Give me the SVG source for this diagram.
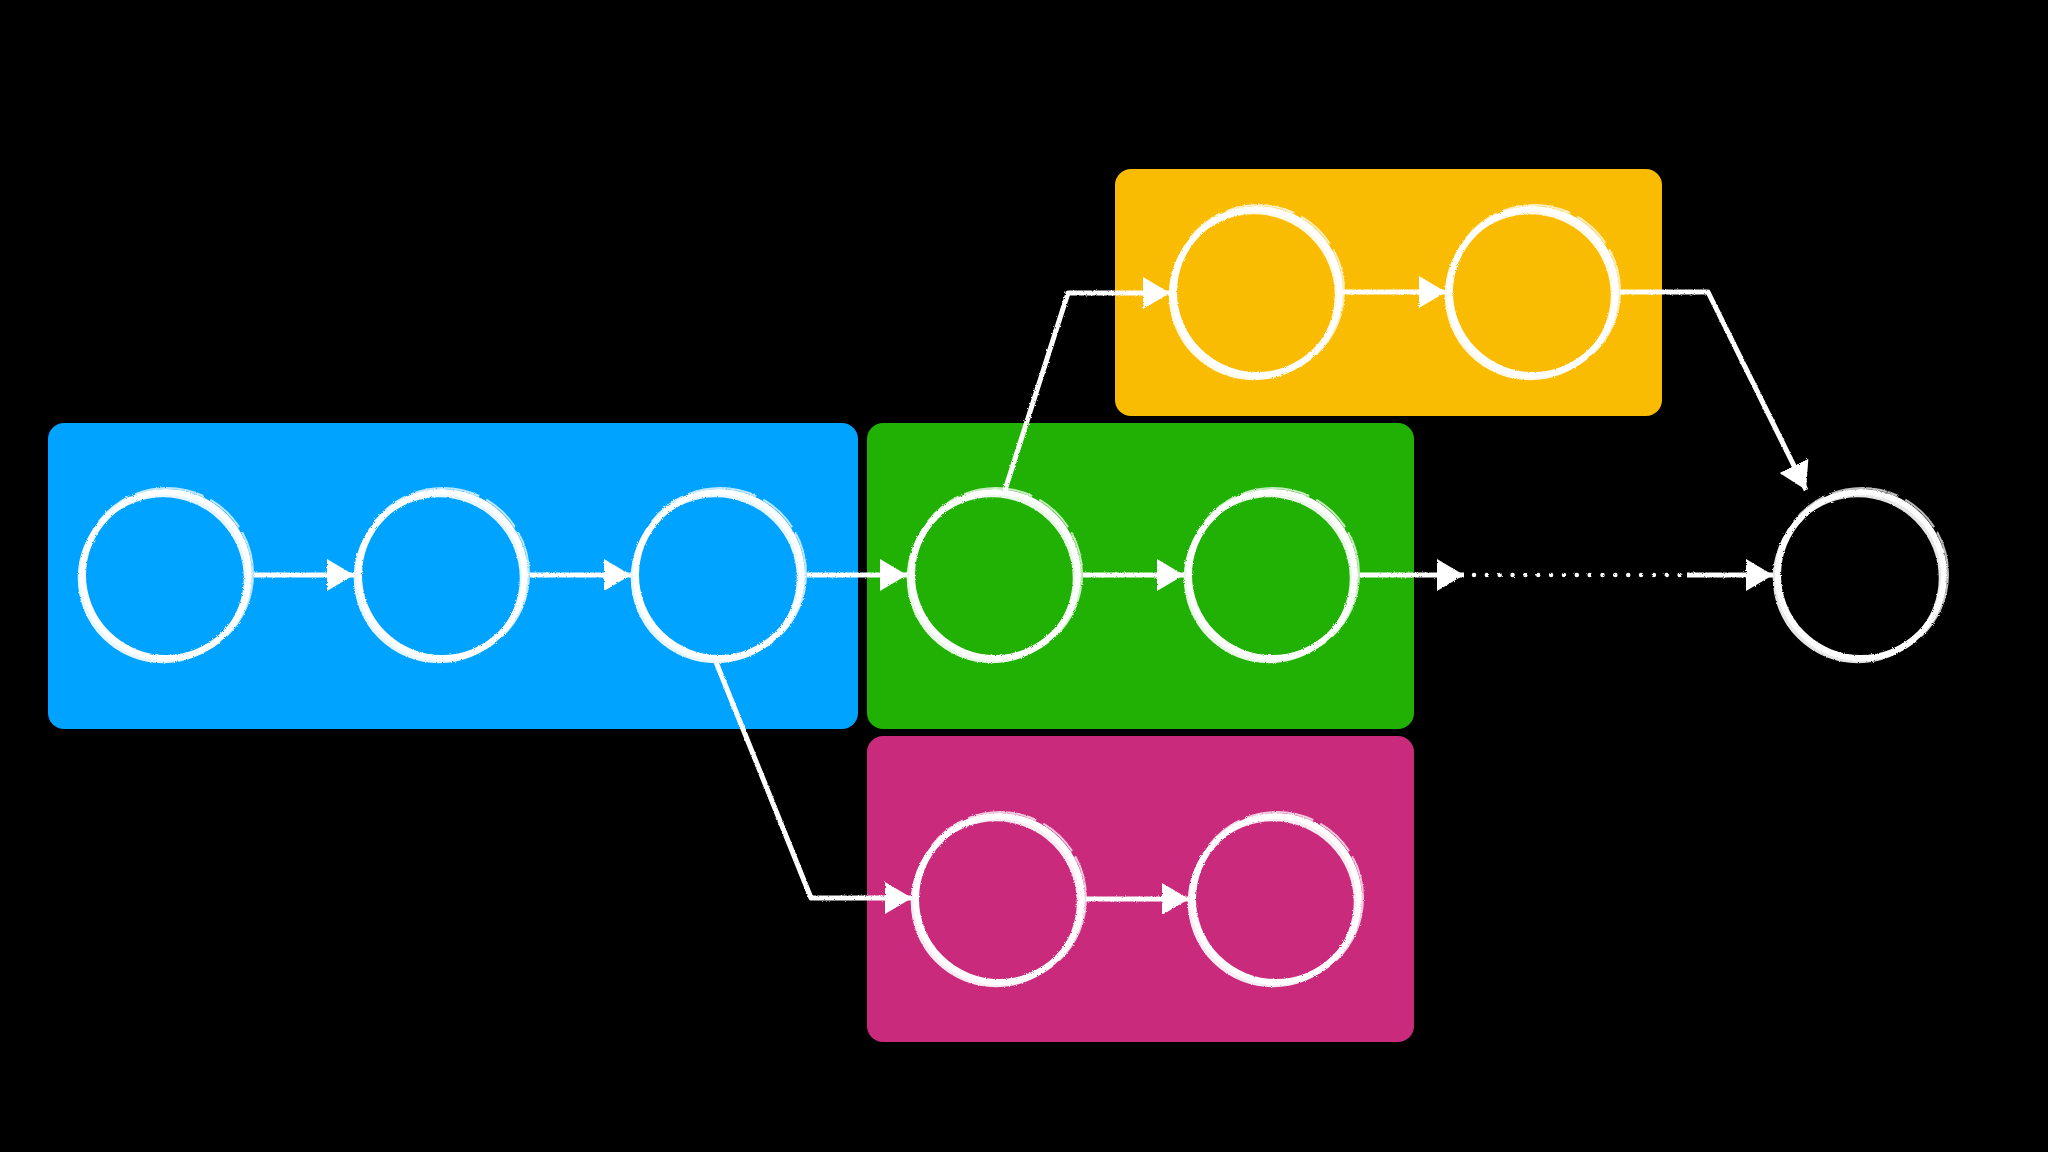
<svg xmlns="http://www.w3.org/2000/svg" width="2048" height="1152" viewBox="0 0 2048 1152">
<style>
.bg{fill:#000}
.blue{fill:#00A3FF}
.green{fill:#21B004}
.orange{fill:#F9BC03}
.magenta{fill:#C92A7B}
.ring{fill:none;stroke:#fff}
.r1{stroke-width:6}
.r2{stroke-width:4.5;opacity:.9}
.r3{stroke-width:2;opacity:.75;stroke-dasharray:70 8 40 6}
.conn{fill:none;stroke:#fff;stroke-width:5;stroke-linejoin:round}
.dots{fill:none;stroke:#fff;stroke-width:4.5;stroke-linecap:round;stroke-dasharray:0 12.85}
</style>
<defs>
<marker id="arrow" markerUnits="userSpaceOnUse" markerWidth="28" markerHeight="34" refX="27" refY="16" orient="auto" viewBox="0 0 28 34">
<path d="M0,0 L27,16 L0,32 Z" fill="#fff"/>
</marker>
<filter id="rough" x="-10%" y="-10%" width="120%" height="120%">
<feTurbulence type="fractalNoise" baseFrequency="0.9" numOctaves="2" seed="3" result="n"/>
<feDisplacementMap in="SourceGraphic" in2="n" scale="2.5"/>
</filter>
<g id="ringShape">
<circle class="ring r1" cx="0" cy="0" r="83"/>
<circle class="ring r2" cx="-3" cy="3" r="83"/>
<circle class="ring r3" cx="1" cy="-1" r="86"/>
</g>
</defs>
<rect class="bg" x="0" y="0" width="2048" height="1152"/>

<g id="groups">
<rect id="group-blue" class="blue" x="48" y="423" width="810" height="306" rx="16"/>
<rect id="group-green" class="green" x="867" y="423" width="547" height="306" rx="16"/>
<rect id="group-orange" class="orange" x="1115" y="169" width="547" height="247" rx="16"/>
<rect id="group-magenta" class="magenta" x="867" y="736" width="547" height="306" rx="16"/>
</g>

<g id="connectors" filter="url(#rough)">
<path class="conn" d="M254,575 H354" marker-end="url(#arrow)"/>
<path class="conn" d="M530,575 H631" marker-end="url(#arrow)"/>
<path class="conn" d="M807,575 H907" marker-end="url(#arrow)"/>
<path class="conn" d="M1083,575 H1184" marker-end="url(#arrow)"/>
<path class="conn" d="M1360,575 H1464" marker-end="url(#arrow)"/>
<path class="dots" d="M1474,575 H1681"/>
<path class="conn" d="M1687,575 H1773" marker-end="url(#arrow)"/>
<path class="conn" d="M1005,490 L1068,293 H1170" marker-end="url(#arrow)"/>
<path class="conn" d="M1343,292 H1446" marker-end="url(#arrow)"/>
<path class="conn" d="M1620,292 H1708 L1806,490" marker-end="url(#arrow)"/>
<path class="conn" d="M716,662 L811,898 H912" marker-end="url(#arrow)"/>
<path class="conn" d="M1086,899 H1189" marker-end="url(#arrow)"/>
</g>

<g id="nodes" filter="url(#rough)">
<g id="node-b1"><use href="#ringShape" x="166" y="575"/></g>
<g id="node-b2"><use href="#ringShape" x="442" y="575"/></g>
<g id="node-b3"><use href="#ringShape" x="719" y="575"/></g>
<g id="node-g1"><use href="#ringShape" x="995" y="575"/></g>
<g id="node-g2"><use href="#ringShape" x="1272" y="575"/></g>
<g id="node-end"><use href="#ringShape" x="1861" y="575"/></g>
<g id="node-o1"><use href="#ringShape" x="1257" y="292"/></g>
<g id="node-o2"><use href="#ringShape" x="1533" y="292"/></g>
<g id="node-m1"><use href="#ringShape" x="999" y="899"/></g>
<g id="node-m2"><use href="#ringShape" x="1276" y="899"/></g>
</g>
</svg>
